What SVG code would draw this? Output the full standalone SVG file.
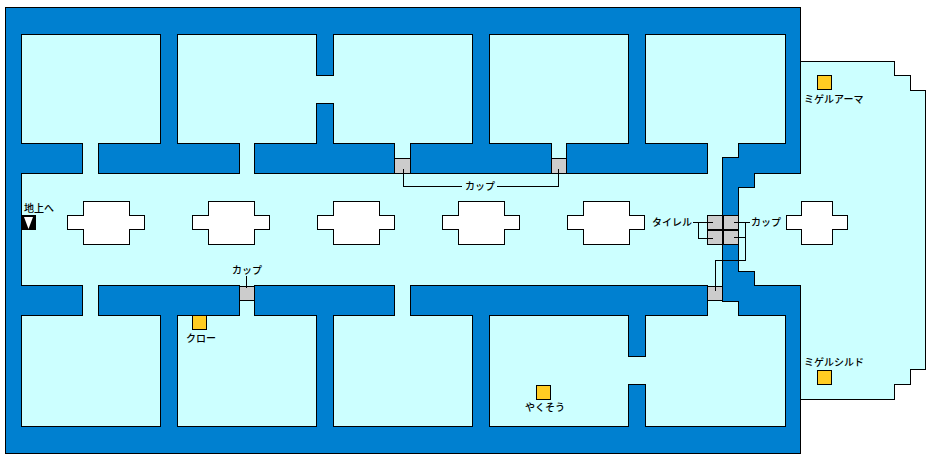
<svg xmlns="http://www.w3.org/2000/svg" width="933" height="461" viewBox="0 0 933 461" shape-rendering="crispEdges">
<style>
.floor{fill:#ccffff;stroke:#000;stroke-width:1;fill-rule:evenodd}
.pillar{fill:#fff;stroke:#000;stroke-width:1}
.door{fill:#cccccc;stroke:#000;stroke-width:1}
.item{fill:#ffcc22;stroke:#000;stroke-width:1}
.lead{fill:none;stroke:#000;stroke-width:1}
text{font-family:"Noto Sans CJK JP","DejaVu Sans",sans-serif;font-size:10px;font-weight:500;fill:#000}
</style>
<defs>
<path id="p" class="pillar" d="M83.500 201.500H129.500V215.500H144.500V229.500H129.500V244.500H83.500V229.500H67.500V215.500H83.500Z"/>
</defs>
<rect x="5.500" y="7.500" width="795" height="446" fill="#0080d0" stroke="#000"/>
<g id="floor">
<path class="floor" d="M21.500 34.500H160.500V143.500H98.500V173.500H239.500V143.500H177.500V34.500H316.500V75.500H333.500V34.500H472.500V143.500H410.500V173.500H551.500V143.500H489.500V34.500H628.500V143.500H566.500V173.500H707.500V143.500H645.500V34.500H785.500V143.500H738.500V157.500H722.500V301.500H738.500V315.500H785.500V426.500H645.500V384.500H628.500V426.500H489.500V315.500H628.500V356.500H645.500V315.500H707.500V285.500H410.500V315.500H472.500V426.500H333.500V315.500H394.500V285.500H254.500V315.500H316.500V426.500H177.500V315.500H239.500V285.500H98.500V315.500H160.500V426.500H21.500V315.500H82.500V285.500H21.500V173.500H82.500V143.500H21.500Z M254.500 143.500H316.500V103.500H333.500V143.500H394.500V173.500H254.500Z"/>
<path class="floor" d="M800.500 61.500H894.500V75.500H910.500V90.500H925.500V369.500H910.500V384.500H894.500V399.500H800.500V285.500H754.500V271.500H738.500V187.500H754.500V173.500H800.500Z"/>
</g>
<g id="pillars">
<use href="#p"/>
<use href="#p" x="125"/>
<use href="#p" x="250"/>
<use href="#p" x="375"/>
<use href="#p" x="500"/>
<path class="pillar" d="M801.500 201.500H832.500V215.500H847.500V229.500H832.500V244.500H801.500V229.500H786.500V215.500H801.500Z"/>
</g>
<g id="doors">
<rect class="door" x="394.500" y="158.500" width="16" height="15"/>
<rect class="door" x="551.500" y="158.500" width="15" height="15"/>
<rect class="door" x="239.500" y="286.500" width="15" height="14"/>
<rect class="door" x="707.500" y="286.500" width="15" height="14"/>
</g>
<g id="tiles">
<rect class="door" x="707.500" y="215.500" width="15" height="14"/>
<rect class="door" x="723.500" y="215.500" width="15" height="14"/>
<rect class="door" x="707.500" y="230.500" width="15" height="14"/>
<rect class="door" x="723.500" y="230.500" width="15" height="14"/>
<path d="M722.500 215V245M707 230H739" stroke="#000" stroke-width="2" fill="none"/>
</g>
<g id="connectors">
<path class="lead" d="M403.500 169V186.500H462M497 186.500H558.500V169"/>
<path class="lead" d="M246.500 276V288"/>
<path class="lead" d="M693 222.500H713M698.500 222.500V238.500H713"/>
<path class="lead" d="M750 222.500H734M745.500 222.500V260.500H715.500V291M745.500 237.500H734"/>
</g>
<g id="stairs">
<rect x="21" y="215" width="15" height="15" fill="#000"/>
<path d="M24 217H33L28.500 229Z" fill="#fff" shape-rendering="auto"/>
<text x="24" y="212">地上へ</text>
</g>
<g id="item-armor"><rect class="item" x="817.500" y="75.500" width="14" height="14"/><text x="804" y="103">ミゲルアーマ</text></g>
<g id="item-shield"><rect class="item" x="817.500" y="370.500" width="14" height="14"/><text x="804" y="366">ミゲルシルド</text></g>
<g id="item-claw"><rect class="item" x="192.500" y="315.500" width="14" height="14"/><text x="186" y="342">クロー</text></g>
<g id="item-herb"><rect class="item" x="536.500" y="385.500" width="14" height="14"/><text x="525" y="411">やくそう</text></g>
<text x="232" y="274">カップ</text>
<text x="465" y="190">カップ</text>
<text x="652" y="226">タイレル</text>
<text x="751" y="226">カップ</text>
</svg>
